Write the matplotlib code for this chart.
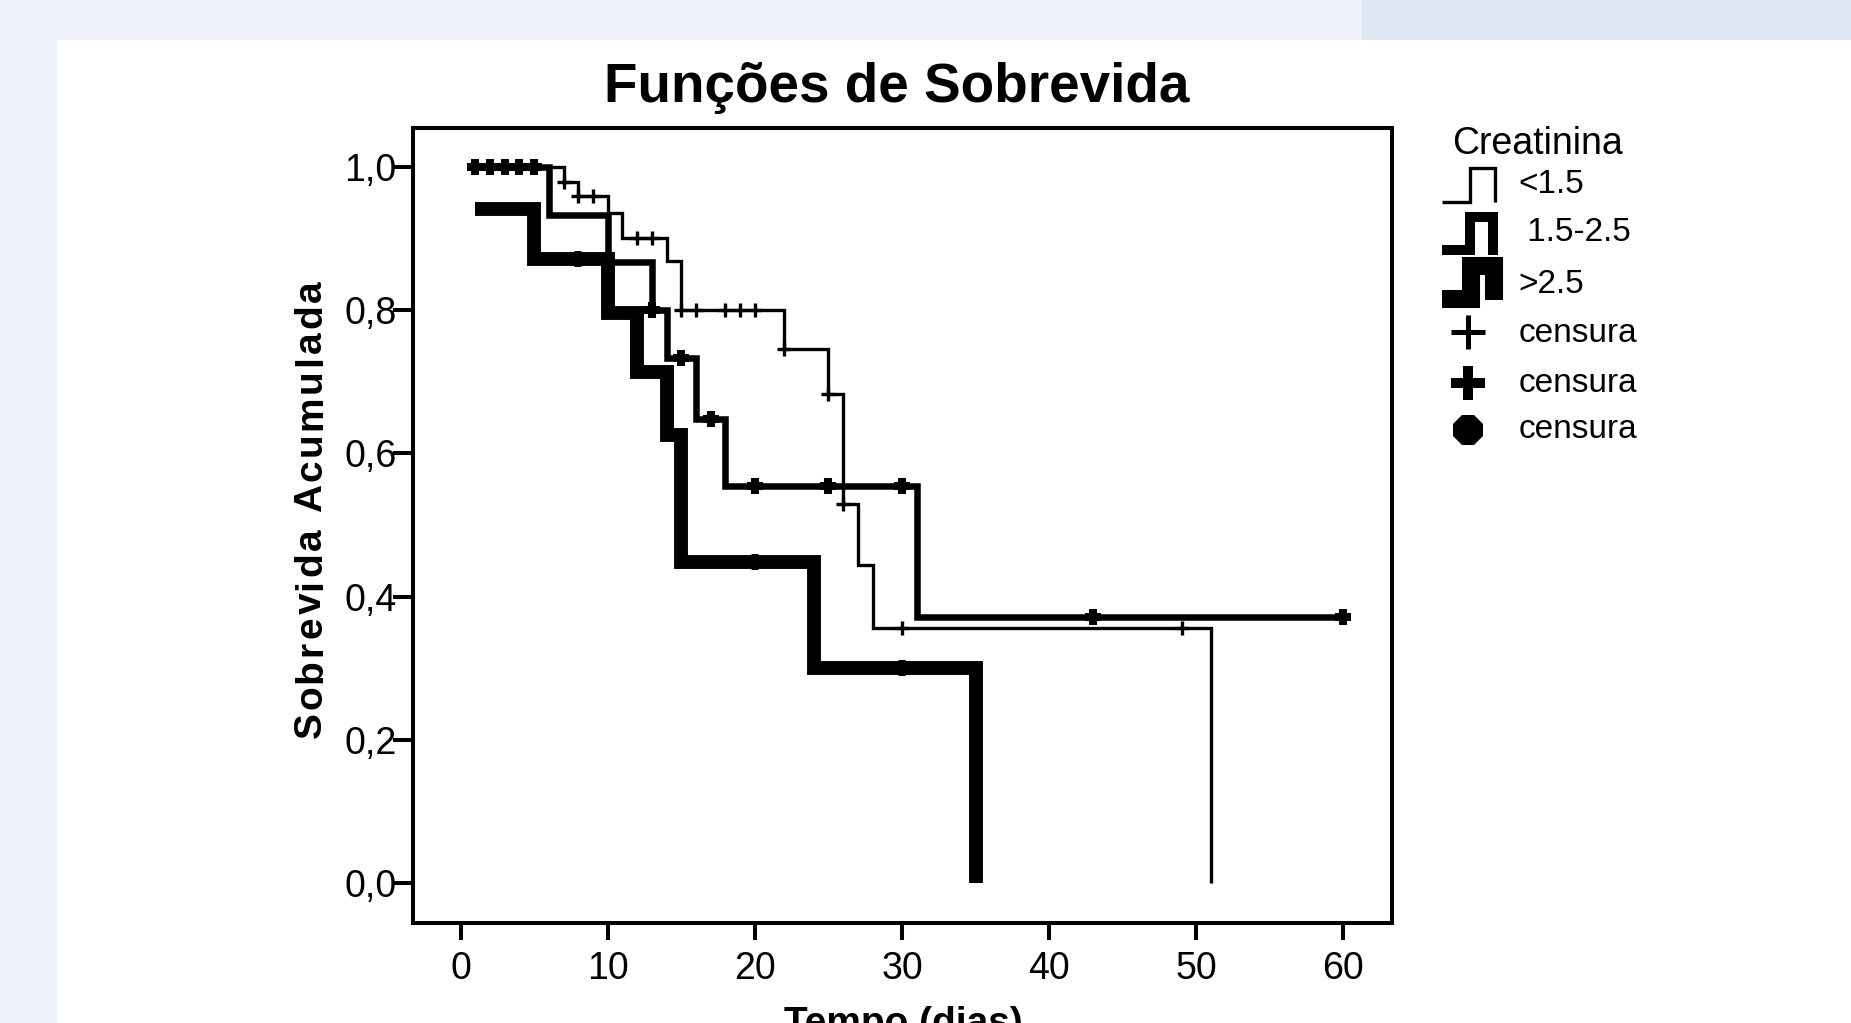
import numpy as np
import matplotlib
matplotlib.use("Agg")
import matplotlib.pyplot as plt
from matplotlib.patches import Rectangle
from matplotlib import font_manager
from matplotlib.ft2font import FT2Font

plt.rcParams['font.family'] = ['Liberation Sans', 'DejaVu Sans']

# Curvas de Kaplan-Meier (tempo em dias, sobrevida acumulada)
grupos = ["<1.5", " 1.5-2.5", ">2.5"]

tempo_baixa = [1, 7, 8, 10, 11, 14, 15, 22, 25, 26, 27, 28, 51]
sobrev_baixa = [1.0, 0.978, 0.959, 0.935, 0.901, 0.868, 0.800, 0.745, 0.683, 0.530, 0.444, 0.356, 0.0]
censura_baixa = [7, 8, 9, 12, 13, 15, 16, 18, 19, 20, 22, 25, 26, 30, 49]

tempo_media = [1, 6, 10, 13, 14, 16, 18, 31, 60]
sobrev_media = [1.0, 0.933, 0.867, 0.800, 0.733, 0.648, 0.555, 0.371, 0.371]
censura_media = [1, 2, 3, 4, 5, 13, 15, 17, 20, 25, 30, 43, 60]

tempo_alta = [1, 5, 10, 12, 14, 15, 24, 35]
sobrev_alta = [0.941, 0.871, 0.796, 0.714, 0.626, 0.448, 0.300, 0.0]
censura_alta = [8, 20, 30]

x_ticks = [0, 10, 20, 30, 40, 50, 60]
y_ticks = [0.0, 0.2, 0.4, 0.6, 0.8, 1.0]
y_tick_labels = ["0,0", "0,2", "0,4", "0,6", "0,8", "1,0"]


def nivel(tempos, sobrev, t):
    # valor da curva em escada no instante t
    i = np.searchsorted(tempos, t, side="right") - 1
    return np.array(sobrev)[i]


W, H = 1851, 1023
fig = plt.figure(figsize=(W / 100, H / 100), dpi=100, facecolor="#eef1fa")

# fundo da página
fig.add_artist(Rectangle((1362 / W, 1 - 40 / H), 1, 40 / H, transform=fig.transFigure,
                         facecolor="#e0e6f4", edgecolor="none", zorder=-10))
fig.add_artist(Rectangle((57 / W, 0), 1, 1 - 40 / H, transform=fig.transFigure,
                         facecolor="white", edgecolor="none", zorder=-10))

ax = fig.add_axes([413 / W, 1 - 923 / H, (1392 - 413) / W, (923 - 128) / H])
ax.set_facecolor("white")

estilos = [
    (tempo_alta, sobrev_alta, censura_alta, 10, "8", 13, 0),
    (tempo_media, sobrev_media, censura_media, 4.7, "+", 11, 5.8),
    (tempo_baixa, sobrev_baixa, censura_baixa, 2.4, "+", 9.4, 2.4),
]
for tempos, sobrev, cens, lw, mk, ms, mew in estilos:
    ax.step(tempos, sobrev, where="post", color="black", lw=lw,
            solid_joinstyle="miter", solid_capstyle="butt")
    cy = [nivel(tempos, sobrev, t) for t in cens]
    ax.plot(cens, cy, ls="none", marker=mk, ms=ms, color="black", mew=mew)

ax.set_xlim(-3.23, 63.3)
ax.set_ylim(-0.0554, 1.054)
ax.set_xticks(x_ticks)
ax.set_xticklabels([str(v) for v in x_ticks])
ax.set_yticks(y_ticks)
ax.set_yticklabels(y_tick_labels)
for s in ax.spines.values():
    s.set_linewidth(2.9)
ax.tick_params(axis="x", direction="out", length=12, width=2.9, labelsize=27, pad=8)
ax.tick_params(axis="y", direction="out", length=14.4, width=2.9, labelsize=27, pad=-2.5)

# camada em pixels para textos e legenda
ov = fig.add_axes([0, 0, 1, 1])
ov.set_xlim(0, W)
ov.set_ylim(H, 0)
ov.axis("off")
ov.patch.set_visible(False)

ov.text(897, 101.5, "Funções de Sobrevida", fontsize=39.5, fontweight="bold",
        ha="center", va="baseline")
ov.text(903, 1034, "Tempo (dias)", fontsize=28, fontweight="bold",
        ha="center", va="baseline")

# rótulo do eixo y com letras espaçadas, letra a letra
rotulo_y = "Sobrevida Acumulada"
prop = font_manager.FontProperties(family="Liberation Sans", weight="bold", size=28)
ft = FT2Font(font_manager.findfont(prop))
ft.set_size(28, 100)
avancos = [ft.load_char(ord(c)).linearHoriAdvance / 65536 for c in rotulo_y]
espaco = (458 - sum(avancos)) / (len(rotulo_y) - 1)
pos = 738
for c, a in zip(rotulo_y, avancos):
    ov.text(321, pos, c, fontproperties=prop, rotation=90, rotation_mode="anchor",
            ha="left", va="baseline")
    pos -= a + espaco

# legenda
ov.text(1451.7, 154, "Creatinina", fontsize=27, ha="left", va="baseline")
simbolos = [
    ([1441.7, 1470, 1470, 1495, 1495], [201.7, 201.7, 168.3, 168.3, 201.7], 2.4),
    ([1441.7, 1470, 1470, 1493.3, 1493.3], [250, 250, 216.7, 216.7, 255], 7.2),
    ([1441.7, 1470.7, 1470.7, 1494, 1494], [299, 299, 265.7, 265.7, 300], 13),
]
for (sx, sy, lw), nome, base in zip(simbolos, grupos, [193, 240.7, 293]):
    ov.plot(sx, sy, color="black", lw=lw, solid_joinstyle="miter", solid_capstyle="butt")
    ov.text(1518.3, base, nome, fontsize=24, ha="left", va="baseline")

ov.plot([1468.3], [331.7], marker="+", ms=24, mew=3.6, color="black")
ov.plot([1468.3], [383.3], marker="+", ms=24, mew=7.2, color="black")
ov.plot([1468.3], [430], marker="8", ms=23, mew=0, color="black")
for base in [341.7, 391.7, 438.3]:
    ov.text(1518.3, base, "censura", fontsize=24, ha="left", va="baseline")

fig.savefig("out.png", dpi=100, facecolor=fig.get_facecolor())
